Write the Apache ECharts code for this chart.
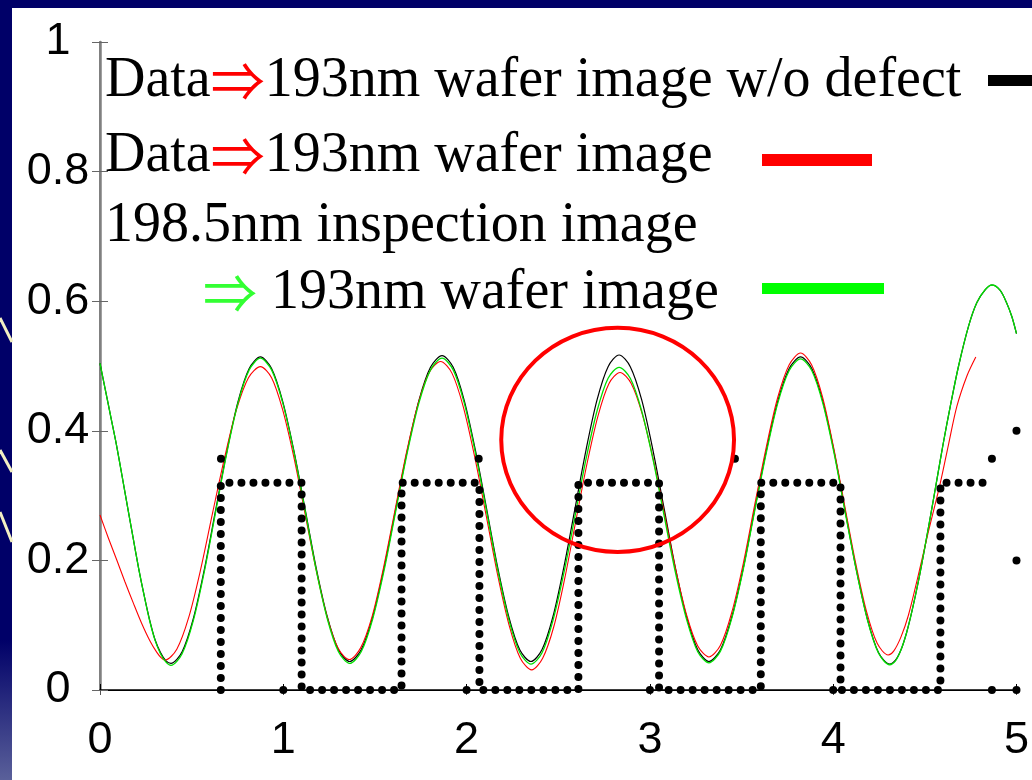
<!DOCTYPE html>
<html>
<head>
<meta charset="utf-8">
<script src="https://cdn.jsdelivr.net/npm/echarts/dist/echarts.min.js"></script>
<style>
  html, body { margin: 0; padding: 0; background: #000068; }
  #chart { width: 1032px; height: 780px; }
</style>
</head>
<body>
<div id="chart"></div>
<script>
// axis ticks
const xTickLabels = ['0', '1', '2', '3', '4', '5'];
const yTickLabels = ['0', '0.2', '0.4', '0.6', '0.8', '1'];

// wafer image curves: black = w/o defect, green = via 198.5nm inspection image
const waferX = [0, 0.03, 0.06, 0.09, 0.12, 0.15, 0.18, 0.21, 0.24, 0.27, 0.30, 0.33, 0.36,
  0.387, 0.448, 0.509, 0.570, 0.631, 0.692, 0.753, 0.814,
  0.875, 0.936, 0.997, 1.058, 1.119, 1.179, 1.240, 1.301,
  1.362, 1.425, 1.488, 1.551, 1.614, 1.677, 1.740, 1.803,
  1.866, 1.927, 1.987, 2.048, 2.109, 2.169, 2.230, 2.290,
  2.351, 2.411, 2.471, 2.531, 2.592, 2.652, 2.712, 2.772,
  2.832, 2.893, 2.955, 3.016, 3.077, 3.138, 3.200, 3.261,
  3.322, 3.385, 3.447, 3.510, 3.572, 3.635, 3.697, 3.760,
  3.822, 3.883, 3.944, 4.005, 4.065, 4.126, 4.187, 4.247,
  4.308, 4.34, 4.37, 4.40, 4.43, 4.47, 4.50, 4.54, 4.566, 4.60, 4.639, 4.684, 4.739, 4.784,
  4.83, 4.866, 4.91, 4.947, 4.975, 5.0];
const noDefectY = [0.504, 0.462, 0.420, 0.378, 0.331, 0.283, 0.236, 0.189, 0.147, 0.109, 0.078, 0.058, 0.045,
  0.041, 0.059, 0.110, 0.187, 0.278, 0.368, 0.445, 0.496,
  0.514, 0.496, 0.445, 0.369, 0.279, 0.189, 0.113, 0.062,
  0.044, 0.062, 0.113, 0.190, 0.280, 0.370, 0.447, 0.498,
  0.516, 0.498, 0.447, 0.370, 0.280, 0.190, 0.113, 0.062,
  0.044, 0.062, 0.113, 0.190, 0.281, 0.371, 0.448, 0.499,
  0.517, 0.499, 0.448, 0.371, 0.281, 0.190, 0.113, 0.062,
  0.044, 0.062, 0.113, 0.189, 0.279, 0.369, 0.445, 0.496,
  0.514, 0.496, 0.445, 0.368, 0.277, 0.186, 0.109, 0.058,
  0.040, 0.046, 0.062, 0.088, 0.122, 0.175, 0.220, 0.283, 0.325, 0.380, 0.438, 0.500, 0.562, 0.598,
  0.618, 0.625, 0.617, 0.597, 0.576, 0.550];
const inspectY = [0.504, 0.462, 0.420, 0.378, 0.331, 0.283, 0.236, 0.189, 0.147, 0.108, 0.077, 0.056, 0.043,
  0.038, 0.056, 0.107, 0.184, 0.275, 0.366, 0.443, 0.494,
  0.512, 0.494, 0.443, 0.367, 0.277, 0.186, 0.110, 0.059,
  0.041, 0.059, 0.110, 0.186, 0.277, 0.367, 0.443, 0.494,
  0.512, 0.494, 0.443, 0.366, 0.276, 0.186, 0.109, 0.058,
  0.040, 0.057, 0.107, 0.181, 0.269, 0.357, 0.431, 0.481,
  0.498, 0.481, 0.431, 0.357, 0.270, 0.183, 0.109, 0.059,
  0.042, 0.060, 0.111, 0.187, 0.277, 0.366, 0.442, 0.493,
  0.511, 0.493, 0.442, 0.365, 0.275, 0.185, 0.108, 0.057,
  0.039, 0.045, 0.062, 0.088, 0.122, 0.175, 0.220, 0.283, 0.325, 0.380, 0.438, 0.500, 0.562, 0.598,
  0.618, 0.625, 0.617, 0.597, 0.576, 0.550];

// data -> 193nm wafer image (red)
const redX = [0, 0.045, 0.091, 0.136, 0.182, 0.227, 0.272, 0.31, 0.333,
  0.354, 0.419, 0.484, 0.549, 0.614, 0.680, 0.745, 0.810,
  0.875, 0.936, 0.996, 1.057, 1.118, 1.178, 1.239, 1.300,
  1.36, 1.422, 1.485, 1.547, 1.609, 1.671, 1.734, 1.796,
  1.858, 1.920, 1.982, 2.044, 2.107, 2.169, 2.231, 2.293,
  2.355, 2.415, 2.476, 2.536, 2.596, 2.656, 2.717, 2.777,
  2.837, 2.898, 2.958, 3.019, 3.080, 3.140, 3.201, 3.261,
  3.322, 3.385, 3.447, 3.510, 3.572, 3.635, 3.697, 3.760,
  3.822, 3.882, 3.942, 4.001, 4.061, 4.121, 4.181, 4.240,
  4.30, 4.33, 4.37, 4.41, 4.46, 4.52, 4.584, 4.63, 4.675, 4.73, 4.778];
const redY = [0.270, 0.235, 0.201, 0.167, 0.134, 0.103, 0.076, 0.058, 0.050,
  0.046, 0.063, 0.112, 0.186, 0.273, 0.359, 0.433, 0.482,
  0.499, 0.482, 0.433, 0.360, 0.273, 0.187, 0.113, 0.064,
  0.047, 0.065, 0.114, 0.189, 0.277, 0.365, 0.440, 0.490,
  0.507, 0.489, 0.437, 0.360, 0.269, 0.178, 0.101, 0.049,
  0.031, 0.049, 0.098, 0.173, 0.261, 0.348, 0.423, 0.473,
  0.490, 0.473, 0.426, 0.355, 0.271, 0.187, 0.115, 0.068,
  0.051, 0.069, 0.120, 0.196, 0.286, 0.375, 0.451, 0.502,
  0.520, 0.502, 0.452, 0.376, 0.287, 0.198, 0.122, 0.072,
  0.054, 0.060, 0.082, 0.115, 0.172, 0.245, 0.319, 0.380, 0.438, 0.485, 0.514];

// mask pattern (dotted)
const maskX = [0.659, 0.659, 1.10, 1.10, 1.645, 1.645, 2.07, 2.07, 2.61, 2.61, 3.05, 3.05, 3.605, 3.605, 4.04, 4.04, 4.585, 4.585, 4.83];
const maskY = [0, 0.32, 0.32, 0, 0, 0.32, 0.32, 0, 0, 0.32, 0.32, 0, 0, 0.32, 0.32, 0, 0, 0.32, 0.32];
// loose dots
const dotX = [0.66, 1.0, 2.0, 2.066, 3.0, 3.464, 4.0, 4.866, 4.866, 5.0, 5.0, 5.0];
const dotY = [0.357, 0, 0, 0.357, 0, 0.357, 0, 0.357, 0, 0, 0.2, 0.4];

// defect marker (center x, center y, radius x, radius y)
const defectMark = [2.824, 0.386, 0.635, 0.173];

const pairs = (xs, ys) => xs.map((x, i) => [x, ys[i]]);

const chart = echarts.init(document.getElementById('chart'));

const serif = '"Liberation Serif", "Times New Roman", serif';
const arrowFont = '"Noto Sans CJK JP", "DejaVu Serif", serif';
const rich = {
  k: { fontFamily: serif, fontSize: 56, fill: '#000' },
  r: { fontFamily: arrowFont, fontSize: 54, fill: '#ff0000' },
  g: { fontFamily: arrowFont, fontSize: 54, fill: '#33ff33' }
};
function legendText(x, y, text) {
  return { type: 'text', x: x, y: y, z: 100,
    style: { text: text, rich: rich, verticalAlign: 'middle', align: 'left' } };
}

const labelFont = '"Liberation Sans", Arial, sans-serif';

const option = {
  animation: false,
  backgroundColor: '#000068',
  grid: { left: 100, right: 14, top: 42, bottom: 90, show: false },
  xAxis: [
    {
      type: 'value', position: 'bottom', min: 0, max: 5, interval: 1,
      splitLine: { show: false },
      axisLine: { lineStyle: { color: '#000', width: 1.5 } },
      axisTick: { inside: true, length: 6, lineStyle: { color: '#000' } },
      axisLabel: { color: '#000', fontSize: 45, fontFamily: labelFont, margin: 28,
        formatter: v => xTickLabels[Math.round(v)] }
    },
    {
      type: 'value', position: 'top', min: 0, max: 5, interval: 1,
      splitLine: { show: false },
      axisLine: { lineStyle: { color: '#000', width: 1 } },
      axisTick: { inside: true, length: 5, lineStyle: { color: '#555' } },
      axisLabel: { show: false }
    }
  ],
  yAxis: [
    {
      type: 'value', position: 'left', min: 0, max: 1, interval: 0.2,
      splitLine: { show: false },
      axisLine: { show: true, lineStyle: { color: '#808080', width: 2.5 } },
      axisTick: { inside: true, length: 8, lineStyle: { color: '#666' } },
      axisLabel: { color: '#000', fontSize: 45, fontFamily: labelFont, margin: 42, align: 'center',
        formatter: v => yTickLabels[Math.round(v * 5)] }
    },
    {
      type: 'value', position: 'right', min: 0, max: 1, interval: 0.2,
      splitLine: { show: false },
      axisLine: { show: true, lineStyle: { color: '#808080', width: 2 } },
      axisTick: { inside: true, length: 8, lineStyle: { color: '#666' } },
      axisLabel: { show: false }
    }
  ],
  series: [
    { type: 'line', data: pairs(waferX, noDefectY), smooth: 0.3, symbol: 'none',
      lineStyle: { color: '#000', width: 1.2 } },
    { type: 'line', data: pairs(redX, redY), smooth: 0.3, symbol: 'none',
      lineStyle: { color: '#ff0000', width: 1.1 } },
    { type: 'line', data: pairs(waferX, inspectY), smooth: 0.3, symbol: 'none',
      lineStyle: { color: '#00e000', width: 1.3 } },
    { type: 'line', data: pairs(maskX, maskY), symbol: 'none', z: 3,
      lineStyle: { color: '#000', width: 8, type: [0, 12], cap: 'round' } },
    { type: 'scatter', data: pairs(dotX, dotY), symbol: 'circle', symbolSize: 8, z: 3,
      itemStyle: { color: '#000', opacity: 1 } },
    { type: 'custom', data: [defectMark], z: 4,
      renderItem: function (params, api) {
        const c = api.coord([api.value(0), api.value(1)]);
        const s = api.size([api.value(2), api.value(3)]);
        return { type: 'ellipse', shape: { cx: c[0], cy: c[1], rx: s[0], ry: s[1] },
          style: { fill: 'none', stroke: '#ff0000', lineWidth: 4 } };
      } }
  ],
  graphic: [
    { type: 'rect', shape: { x: 12, y: 8, width: 1020, height: 772 }, style: { fill: '#fff' }, z: -10 },
    { type: 'rect', shape: { x: 0, y: 640, width: 12, height: 140 }, z: -10,
      style: { fill: new echarts.graphic.LinearGradient(0, 0, 0, 1, [
        { offset: 0, color: '#000068' }, { offset: 1, color: '#5a609a' }]) } },
    { type: 'line', shape: { x1: 0, y1: 318, x2: 12, y2: 342 }, style: { stroke: '#f2efc4', lineWidth: 3 }, z: -5 },
    { type: 'line', shape: { x1: 0, y1: 450, x2: 12, y2: 472 }, style: { stroke: '#f2efc4', lineWidth: 3 }, z: -5 },
    { type: 'line', shape: { x1: 0, y1: 512, x2: 12, y2: 542 }, style: { stroke: '#f2efc4', lineWidth: 3 }, z: -5 },
    legendText(105, 81, '{k|Data}{r|⇒}{k|193nm wafer image w/o defect}'),
    legendText(105, 156, '{k|Data}{r|⇒}{k|193nm wafer image}'),
    legendText(105, 226, '{k|198.5nm inspection image}'),
    legendText(203, 293, '{g|⇒}{k| 193nm wafer image}'),
    { type: 'rect', shape: { x: 988, y: 75, width: 60, height: 11 }, style: { fill: '#000' }, z: 100 },
    { type: 'rect', shape: { x: 762, y: 154, width: 110, height: 12 }, style: { fill: '#ff0000' }, z: 100 },
    { type: 'rect', shape: { x: 762, y: 283, width: 122, height: 11 }, style: { fill: '#00ff00' }, z: 100 }
  ]
};

chart.setOption(option);
</script>
</body>
</html>
